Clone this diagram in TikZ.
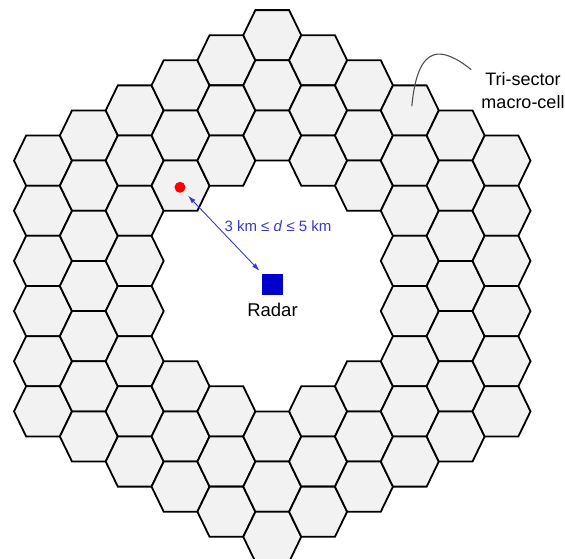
\documentclass[tikz,border=0pt]{standalone}
\usepackage{fontspec}
\setmainfont{Liberation Sans}
\usetikzlibrary{arrows.meta,positioning}
\definecolor{cellCol}{HTML}{F2F2F2}
\definecolor{radarCol}{HTML}{0000CC}
\definecolor{distCol}{HTML}{3838D0}
\definecolor{leadCol}{HTML}{505050}
\newcommand{\hexa}{29}
\newcommand{\hexc}{16.85}
\newcommand{\hexh}{25.08}
\tikzset{
  cell/.style={draw=black, fill=cellCol, line width=1.8pt},
  radarbox/.style={fill=radarCol, minimum size=21pt, inner sep=0pt},
  uedot/.style={circle, fill=red, minimum size=11pt, inner sep=0pt},
  dist/.style={{Latex[length=8pt,width=5pt]}-{Latex[length=8pt,width=5pt]}, line width=0.9pt, distCol,
               shorten <=6pt, shorten >=4pt},
  leader/.style={leadCol, line width=1.1pt},
  lbl/.style={inner sep=0pt, align=center},
}
\newcommand{\hexcell}[2]{% flat-top cell centred at (#1,#2)
  \draw[cell, shift={(#1,#2)}] (-\hexa,0) -- (-\hexc,-\hexh) -- (\hexc,-\hexh) -- (\hexa,0)
    -- (\hexc,\hexh) -- (-\hexc,\hexh) -- cycle;}

\begin{document}
\begin{tikzpicture}[x=1pt, y=-1pt]
  \def\xc{272.25}\def\yc{286}\def\colw{45.85}\def\rowh{50.16}
  \useasboundingbox (0,0) rectangle (565,559);
  % ring of macro-cells, hex distance 3..5 from the radar
  \foreach \q in {-5,...,5}{
    \foreach \r in {-5,...,5}{
      \pgfmathtruncatemacro{\dd}{max(abs(\q),abs(\r),abs(\q+\r))}
      \ifnum\dd>2 \ifnum\dd<6
        \pgfmathsetmacro{\cx}{\xc+\q*\colw}
        \pgfmathsetmacro{\cy}{\yc+(\r+\q/2)*\rowh}
        \hexcell{\cx}{\cy}
        \coordinate (c\q\r) at (\cx,\cy);
      \fi\fi
    }}
  % radar and user
  \node[radarbox] (radar) at (272.5,284.5) {};
  \node[lbl, font=\fontsize{18.5}{22}\selectfont, below=8pt of radar] (radarlbl) {Radar};
  \node[uedot] (ue) at (180,187.3) {};
  \draw[dist] (ue) -- (radar);
  \node[lbl, font=\fontsize{15}{18}\selectfont, text=distCol] (dlbl) at (278,226)
    {3 km ≤ \textit{d} ≤ 5 km};
  % callout
  \node[lbl, font=\fontsize{18}{22.7}\selectfont] (tri) at (523,90.8) {Tri-sector\\macro-cell};
  \draw[leader] ([shift={(2,-4)}]c3-5) .. controls +(6,-66) and +(-28,-22) .. ([shift={(-10,-3)}]tri.north west);
\end{tikzpicture}
\end{document}
